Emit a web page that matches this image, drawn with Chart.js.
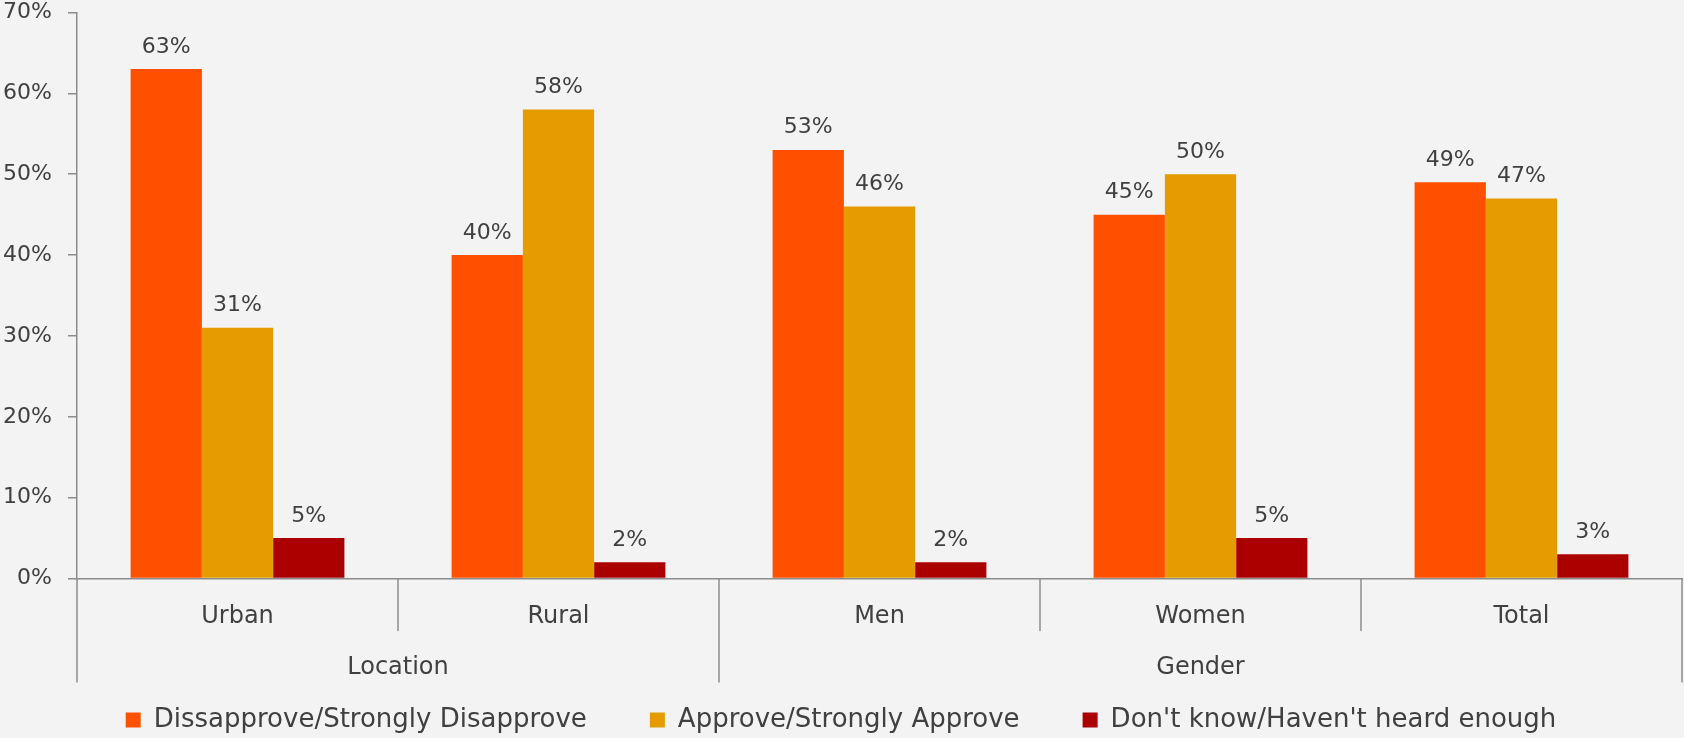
<!DOCTYPE html>
<html><head><meta charset="utf-8">
<script src="https://cdn.jsdelivr.net/npm/chart.js@4.4.0/dist/chart.umd.min.js"></script>
<style>
html,body{margin:0;padding:0;background:#f3f3f3;}
#wrap{width:1684px;height:738px;position:relative;}
canvas{display:block;}
</style></head><body>
<div id="wrap"><canvas id="c" width="1684" height="738"></canvas></div>
<script>
// ---- data ----
const categories = ['Urban', 'Rural', 'Men', 'Women', 'Total'];
const groupNames = ['Location', 'Gender'];
const groupSizes = [2, 3];
const seriesNames = ['Dissapprove/Strongly Disapprove', 'Approve/Strongly Approve', "Don't know/Haven't heard enough"];
const disapprove = [63, 40, 53, 45, 49];
const approve = [31, 58, 46, 50, 47];
const dontKnow = [5, 2, 2, 5, 3];
const yMin = 0, yMax = 70, yStep = 10;

// ---- styles ----
const FONT = '"DejaVu Sans", sans-serif';
const TEXT = '#404040';
const AXIS = '#8c8c8c';
const colors = ['#ff5000', '#e59c00', '#aa0000'];

const groupAxisPlugin = {
  id: 'groupAxis',
  afterDraw(chart) {
    const xs = chart.scales.x;
    const ctx = chart.ctx;
    const n = categories.length;
    const bound = i => i === 0 ? xs.left : (i === n ? xs.right :
      (xs.getPixelForValue(i - 1) + xs.getPixelForValue(i)) / 2);
    const groupEdges = [0];
    groupSizes.forEach(s => groupEdges.push(groupEdges[groupEdges.length - 1] + s));
    const y0 = xs.top;
    ctx.save();
    ctx.strokeStyle = AXIS;
    ctx.lineWidth = 1.5;
    for (let i = 0; i <= n; i++) {
      const isGroup = groupEdges.includes(i);
      const x = bound(i);
      ctx.beginPath();
      ctx.moveTo(x, y0);
      ctx.lineTo(x, y0 + (isGroup ? 104 : 52.5));
      ctx.stroke();
    }
    ctx.fillStyle = TEXT;
    ctx.font = '24px ' + FONT;
    ctx.textAlign = 'center';
    ctx.textBaseline = 'middle';
    groupNames.forEach((g, k) => {
      const x = (bound(groupEdges[k]) + bound(groupEdges[k + 1])) / 2;
      ctx.fillText(g, x, y0 + 89);
    });
    ctx.restore();
  }
};

const valueLabelPlugin = {
  id: 'valueLabels',
  afterDatasetsDraw(chart) {
    const ctx = chart.ctx;
    ctx.save();
    ctx.fillStyle = TEXT;
    ctx.font = '22px ' + FONT;
    ctx.textAlign = 'center';
    ctx.textBaseline = 'alphabetic';
    chart.data.datasets.forEach((ds, di) => {
      const meta = chart.getDatasetMeta(di);
      meta.data.forEach((el, i) => {
        ctx.fillText(ds.data[i] + '%', el.x, el.y - 16.5);
      });
    });
    ctx.restore();
  }
};

new Chart(document.getElementById('c'), {
  type: 'bar',
  data: {
    labels: categories,
    datasets: [
      { label: seriesNames[0], data: disapprove, backgroundColor: colors[0] },
      { label: seriesNames[1], data: approve, backgroundColor: colors[1] },
      { label: seriesNames[2], data: dontKnow, backgroundColor: colors[2] }
    ]
  },
  options: {
    responsive: false,
    devicePixelRatio: 1,
    animation: false,
    layout: { padding: { left: 0, right: 2, top: 0, bottom: -5 } },
    datasets: { bar: { categoryPercentage: 0.666, barPercentage: 1.0, borderWidth: 0 } },
    plugins: {
      tooltip: { enabled: false },
      legend: {
        position: 'bottom',
        labels: {
          boxWidth: 15, boxHeight: 15, padding: 63,
          color: TEXT, font: { family: FONT, size: 26 }
        }
      }
    },
    scales: {
      x: {
        grid: { display: false, drawTicks: false },
        border: { display: true, color: AXIS, width: 1.5 },
        ticks: { color: TEXT, font: { family: FONT, size: 24 }, padding: 24, maxRotation: 0 },
        afterFit: s => { s.height = 65.5; }
      },
      y: {
        min: yMin, max: yMax,
        ticks: { stepSize: yStep, color: TEXT, font: { family: FONT, size: 22 }, padding: 16,
          callback: v => v + '%' },
        grid: { display: true, drawOnChartArea: false, drawTicks: true, tickLength: 9, color: AXIS, lineWidth: 1.5 },
        border: { display: true, color: AXIS, width: 1.5 },
        afterFit: s => { s.width = 77; s.paddingTop = 12.5; s.paddingBottom = 0; }
      }
    }
  },
  plugins: [groupAxisPlugin, valueLabelPlugin]
});
</script>
</body></html>
